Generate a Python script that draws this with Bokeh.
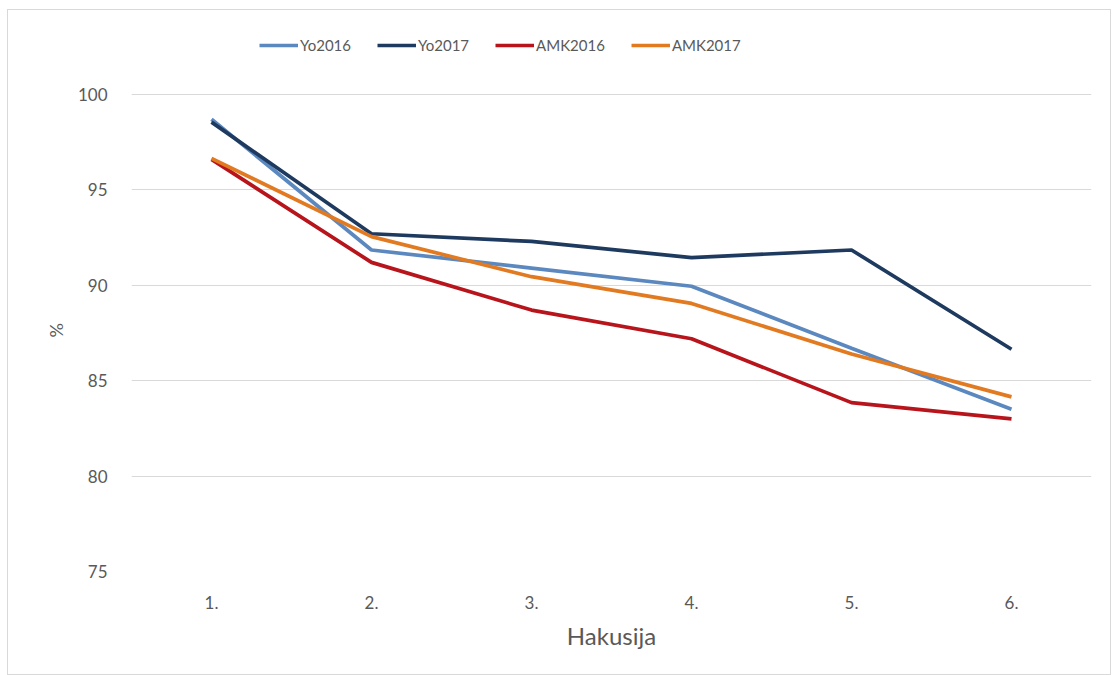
from bokeh.plotting import figure
from bokeh.models import Legend, LegendItem, FactorRange, Range1d, FixedTicker, Title
from bokeh.embed import file_html
from bokeh.resources import INLINE

categories = ["1.", "2.", "3.", "4.", "5.", "6."]
yo2016 = [98.7, 91.85, 90.9, 89.95, 86.7, 83.5]
yo2017 = [98.55, 92.7, 92.3, 91.45, 91.85, 86.65]
amk2016 = [96.6, 91.2, 88.7, 87.2, 83.85, 83.0]
amk2017 = [96.65, 92.55, 90.45, 89.05, 86.4, 84.15]
y_ticks = [75, 80, 85, 90, 95, 100]

series = [
    ("Yo2016", yo2016, "#5B88BF"),
    ("Yo2017", yo2017, "#1F3A5F"),
    ("AMK2016", amk2016, "#B8141B"),
    ("AMK2017", amk2017, "#E27A22"),
]

FONT = "Lato"
GRAY = "#595959"

p = figure(
    width=1104, height=666,
    x_range=FactorRange(*categories, range_padding=0),
    y_range=Range1d(75, 103.3),
    output_backend="svg", toolbar_location=None,
    min_border_left=123, min_border_right=21,
    min_border_top=21, min_border_bottom=105,
)
p.styles = {"border": "1px solid #d9d9d9", "margin-left": "7px", "margin-top": "9px"}
p.outline_line_color = None
p.background_fill_color = "white"

items = []
for name, vals, color in series:
    r = p.line(categories, vals, line_color=color, line_width=3.7)
    items.append(LegendItem(label=name, renderers=[r]))

legend = Legend(items=items, orientation="horizontal", location=(128, 516),
                border_line_color=None, background_fill_alpha=0,
                label_text_font=FONT, label_text_font_size="15px",
                label_text_color=GRAY, glyph_width=39, glyph_height=20,
                label_standoff=2, spacing=26, margin=0, padding=0)
p.add_layout(legend, "center")

p.xgrid.grid_line_color = None
p.ygrid.grid_line_color = "#d9d9d9"
p.ygrid.grid_line_width = 1
p.yaxis.ticker = FixedTicker(ticks=y_ticks)

for ax in (p.xaxis[0], p.yaxis[0]):
    ax.axis_line_color = None
    ax.major_tick_line_color = None
    ax.minor_tick_line_color = None
    ax.major_label_text_font = FONT
    ax.major_label_text_font_size = "17px"
    ax.major_label_text_color = GRAY
    ax.axis_label_text_font = FONT
    ax.axis_label_text_color = GRAY
    ax.axis_label_text_font_style = "normal"

p.yaxis.major_label_standoff = 18
p.xaxis.major_label_standoff = 18
p.xaxis.axis_label = "Hakusija"
p.xaxis.axis_label_text_font_size = "24px"
p.xaxis.axis_label_standoff = 9

ytitle = Title(text="%", align="left", offset=234, standoff=15, text_font=FONT,
               text_font_size="18px", text_color=GRAY, text_font_style="normal")
p.add_layout(ytitle, "left")

open("out.html", "w").write(file_html(p, INLINE))
